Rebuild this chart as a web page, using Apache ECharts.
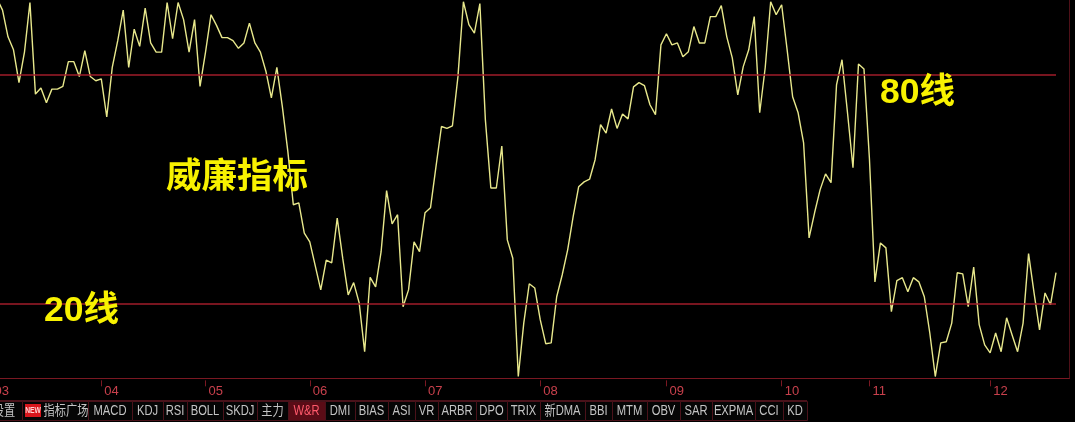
<!DOCTYPE html>
<html>
<head>
<meta charset="utf-8">
<script src="https://cdn.jsdelivr.net/npm/echarts@6/dist/echarts.min.js"></script>
<style>
html,body{margin:0;padding:0;background:#000;}
#main{width:1075px;height:422px;}
</style>
</head>
<body>
<div id="main"></div>
<script>
// ---------- DATA ----------
const wrValues = [
 90,100,97,90,86.6,78,86,99,75,76.6,
 72.7,76.3,76.3,77,83.5,83.5,79.6,86.4,79.6,78.5,
 79,69,82,89,97,82,92,87.5,97.5,88.4,
 86,86,99,89.5,99,94.5,86,94.5,77,86,
 95.8,93,89.8,89.8,89,87,88.4,93.6,88.4,86,
 81,74,82,71.7,60,46,46.5,38.6,36.3,30,
 23.7,31.5,30.8,42.5,32,22.4,25.6,20.3,7.5,27,
 24.5,33.7,49.7,41,43.4,19.3,23.7,36.3,33.7,43.9,
 45.2,56,66.5,66,66.7,79.5,99.2,93.2,91,98.7,
 68.3,50.4,50.4,61.4,36.8,32,1,15,25.3,24.2,
 15.9,9.6,9.8,21.9,27.6,34.2,42.9,50.7,52,52.7,
 57.8,67,64.8,71.1,66,69.8,68.5,76.9,78,77.2,
 72.2,69.6,87.9,90.8,87.9,88.4,84.8,86.1,92.7,88.4,
 88.4,95.3,95.3,98.2,90,84.5,74.8,82.2,86.6,95.3,
 70.1,81.9,99.2,95.8,98.4,86.6,74.3,70.1,62.2,37.3,
 43.9,49.9,54.1,51.8,77.4,84,70.1,55.7,82.9,81.6,
 58,25.8,36,34.7,18,26.1,26.9,23.2,26.9,25.8,
 21.9,12.4,1,9.8,10.1,15,28.2,27.9,19.3,29.7,
 14.6,9.3,7.2,12.4,7.5,16.4,11.9,7.5,15,33.2,
 22.9,13.2,22.9,19.8,28.2
];
const monthStartIndex = [0,20,39,58,79,100,123,144,160,182];
const monthLabels = ['03','04','05','06','07','08','09','10','11','12'];
const levelLines = [80, 20];
const tabLabels = ['设置','指标广场','MACD','KDJ','RSI','BOLL','SKDJ','主力','W&R','DMI','BIAS','ASI','VR','ARBR','DPO','TRIX','新DMA','BBI','MTM','OBV','SAR','EXPMA','CCI','KD'];
const activeTab = 'W&R';
const annotations = ['80线','威廉指标','20线'];

// ---------- LAYOUT ----------
const tabEdges = [-30,22,88,132,163,187,223,257,288,325,355,388,415,438,476,507,540,585,612,647,680,712,755,783,807];
const categories = wrValues.map((v,i)=>String(i));
const monthMap = {};
monthStartIndex.forEach((idx,k)=>{monthMap[idx]=monthLabels[k];});

const chart = echarts.init(document.getElementById('main'), null, {renderer:'canvas'});

const graphics = [];
graphics.push({type:'line', silent:true, shape:{x1:0,y1:378.5,x2:1070,y2:378.5}, style:{stroke:'#7a1822',lineWidth:1.2}, z:50});
graphics.push({type:'line', silent:true, shape:{x1:1069.5,y1:0,x2:1069.5,y2:378.5}, style:{stroke:'#4e1018',lineWidth:1}, z:50});
graphics.push({type:'line', silent:true, shape:{x1:0,y1:400.5,x2:807,y2:400.5}, style:{stroke:'#4a121a',lineWidth:1}, z:50});
tabLabels.forEach((t,i)=>{
  const x0 = tabEdges[i], x1 = tabEdges[i+1];
  const active = t === activeTab;
  graphics.push({type:'rect', silent:true, shape:{x:x0+0.5,y:401.5,width:x1-x0,height:19},
    style:{fill: active ? '#5a0c16' : '#050505', stroke:'#4a121a', lineWidth:1}, z:50});
  let cx = (x0+x1)/2;
  if (t === '指标广场') cx = 66;
  if (t === '设置') cx = 4;
  graphics.push({type:'text', silent:true, x:cx, y:411.5, scaleX:0.8, z:52,
    style:{text:t, fill: active ? '#ff5a6c' : '#c4c4c4',
      font:'14px "Liberation Sans", "Noto Sans CJK SC", sans-serif',
      textAlign:'center', textVerticalAlign:'middle', verticalAlign:'middle'}});
});
graphics.push({type:'rect', silent:true, shape:{x:25,y:404,width:16,height:13}, style:{fill:'#d8161c'}, z:53});
graphics.push({type:'text', silent:true, x:33, y:410.5, scaleX:0.75, z:54,
  style:{text:'NEW', fill:'#ffd0d0', font:'bold 9px "Liberation Sans", sans-serif',
    textAlign:'center', textVerticalAlign:'middle', verticalAlign:'middle'}});
const annFont = 'bold 35.5px "Liberation Sans", "Noto Sans CJK SC", sans-serif';
const annPos = [[880,93],[166,178],[44,311]];
annotations.forEach((t,i)=>{
  graphics.push({type:'text', silent:true, x:annPos[i][0], y:annPos[i][1], z:60,
    style:{text:t, fill:'#f8f200', font:annFont, textAlign:'left', textVerticalAlign:'middle', verticalAlign:'middle'}});
});

const option = {
  backgroundColor:'#000',
  animation:false,
  grid:{left:-8.46, right:19, top:-1.33, bottom:41.67, containLabel:false, outerBoundsMode:'none'},
  xAxis:{
    type:'category', data:categories, boundaryGap:false,
    axisLine:{show:false},
    axisTick:{show:true, length:6, lineStyle:{color:'#7a1822',width:1},
      interval:(idx)=> monthMap[idx] !== undefined},
    axisLabel:{show:true, interval:(idx)=> monthMap[idx] !== undefined,
      formatter:(v,idx)=> monthMap[idx] || '',
      color:'#c8404c', fontSize:13, fontFamily:'"Liberation Sans Narrow", "Liberation Sans", sans-serif',
      align:'left', margin:5, padding:[0,0,0,3]},
    splitLine:{show:false}
  },
  yAxis:{type:'value', min:0, max:100, show:false, splitLine:{show:false}},
  series:[{
    type:'line', data:wrValues, symbol:'none', smooth:false, clip:true,
    lineStyle:{color:'#e8e88c', width:1.4},
    markLine:{silent:true, symbol:'none', label:{show:false},
      lineStyle:{color:'#a01c2a', width:1.6, type:'solid'},
      data: levelLines.map(v=>({yAxis:v}))}
  }],
  graphic: graphics
};
chart.setOption(option);
</script>
</body>
</html>
